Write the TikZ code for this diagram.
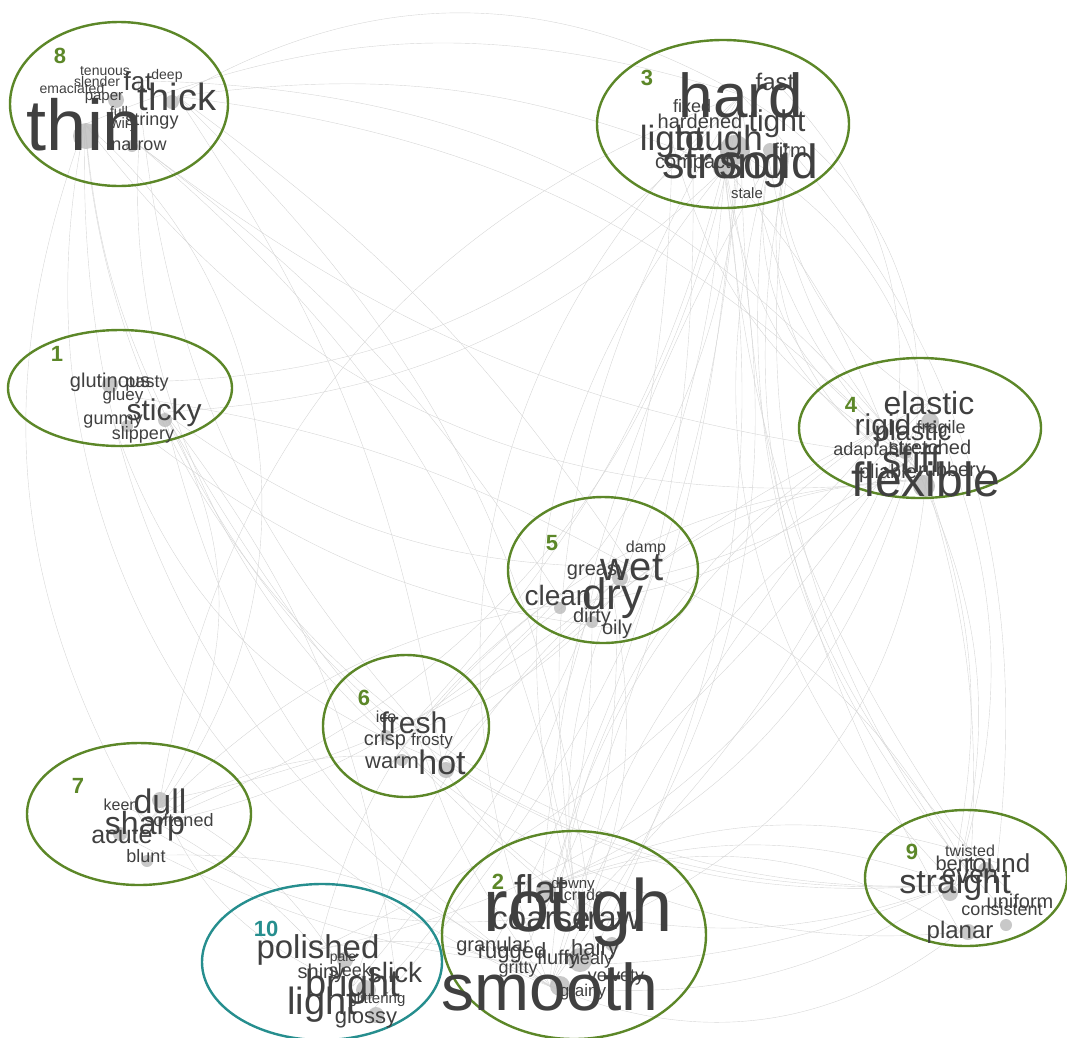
\documentclass[tikz,border=0pt]{standalone}
\usepackage{fontspec}
\setmainfont{Liberation Sans}
\usepackage{tikz}
\usetikzlibrary{positioning,shapes.geometric,backgrounds}
\definecolor{wordgrey}{RGB}{64,64,64}
\definecolor{clgreen}{RGB}{92,135,40}
\definecolor{clteal}{RGB}{38,142,142}
\definecolor{edgegrey}{RGB}{214,214,214}
\definecolor{blobgrey}{RGB}{190,190,190}
\tikzset{
  word/.style={anchor=base, inner sep=0pt, text=wordgrey, font=\fontsize{#1}{#1}\selectfont},
  cluster/.style={draw=clgreen, ellipse, line width=2.4pt, inner sep=0pt},
  tealcluster/.style={cluster, draw=clteal},
  clabel/.style={anchor=base, inner sep=0pt, text=clgreen, font=\bfseries\fontsize{22}{22}\selectfont},
  tealclabel/.style={clabel, text=clteal},
  edge/.style={draw=edgegrey, line width=0.4pt},
  blob/.style={fill=blobgrey, opacity=0.85}
}

\begin{document}
\begin{tikzpicture}[x=1pt, y=-1pt]
  \useasboundingbox (0,0) rectangle (1067,1037);

  % clusters
  \node[cluster, minimum width=218, minimum height=164] (e8) at (119,104) {};
  \node[cluster, minimum width=252, minimum height=168] (e3) at (723,124) {};
  \node[cluster, minimum width=224, minimum height=116] (e1) at (120,388) {};
  \node[cluster, minimum width=242, minimum height=140] (e4) at (920,428) {};
  \node[cluster, minimum width=190, minimum height=146] (e5) at (603,570) {};
  \node[cluster, minimum width=166, minimum height=142] (e6) at (406,726) {};
  \node[cluster, minimum width=224, minimum height=142] (e7) at (139,814) {};
  \node[cluster, minimum width=264, minimum height=208] (e2) at (574,935) {};
  \node[tealcluster, minimum width=240, minimum height=156] (e10) at (322,962) {};
  \node[cluster, minimum width=202, minimum height=136] (e9) at (966,878) {};

  \node[clabel] (n8) at (60,63) {8};
  \node[clabel] (n3) at (647,85) {3};
  \node[clabel] (n1) at (57,361) {1};
  \node[clabel] (n4) at (851,412) {4};
  \node[clabel] (n5) at (552,550) {5};
  \node[clabel] (n6) at (364,705) {6};
  \node[clabel] (n7) at (78,793) {7};
  \node[clabel] (n2) at (498,889) {2};
  \node[tealclabel] (n10) at (266,936) {10};
  \node[clabel] (n9) at (912,859) {9};

  % cluster 8
  \node[word=14] (tenuous) at (105,75) {tenuous};
  \node[word=14] (deep) at (167,79) {deep};
  \node[word=26] (fat) at (138,90) {fat};
  \node[word=14] (slender) at (97,86) {slender};
  \node[word=14] (emaciated) at (72,93) {emaciated};
  \node[word=15] (paper) at (104,100) {paper};
  \node[word=38] (thick) at (177,110) {thick};
  \node[word=14] (full) at (119,116) {full};
  \node[word=18] (stringy) at (152,125) {stringy};
  \node[word=15] (wiry) at (124,128) {wiry};
  \node[word=72] (thin) at (85,150) {thin};
  \node[word=18] (narrow) at (139,150) {narrow};

  % cluster 3
  \node[word=24] (fast) at (775,90) {fast};
  \node[word=18] (fixed) at (692,112) {fixed};
  \node[word=62] (hard) at (741,117) {hard};
  \node[word=20] (hardened) at (700,128) {hardened};
  \node[word=30] (tight) at (777,131) {tight};
  \node[word=35] (light3) at (672,150) {light};
  \node[word=35] (tough) at (719,150) {tough};
  \node[word=20] (firm) at (790,157) {firm};
  \node[word=20] (compact) at (693,168) {compact};
  \node[word=48] (solid) at (769,178) {solid};
  \node[word=45] (strong) at (725,178) {strong};
  \node[word=15] (stale) at (747,198) {stale};

  % cluster 1
  \node[word=20] (glutinous) at (110,387) {glutinous};
  \node[word=18] (pasty) at (147,387) {pasty};
  \node[word=17] (gluey) at (123,400) {gluey};
  \node[word=30] (sticky) at (164,420) {sticky};
  \node[word=18] (gummy) at (113,424) {gummy};
  \node[word=18] (slippery) at (143,439) {slippery};

  % cluster 4
  \node[word=32] (elastic) at (929,414) {elastic};
  \node[word=18] (fragile) at (941,433) {fragile};
  \node[word=30] (rigid) at (883,435) {rigid};
  \node[word=27] (plastic) at (913,440) {plastic};
  \node[word=18] (adaptable) at (873,455) {adaptable};
  \node[word=20] (stretched) at (930,454) {stretched};
  \node[word=38] (stiff) at (912,472) {stiff};
  \node[word=20] (pliable) at (888,478) {pliable};
  \node[word=20] (rubbery) at (952,476) {rubbery};
  \node[word=48] (flexible) at (926,496) {flexible};

  % cluster 5
  \node[word=16] (damp) at (646,552) {damp};
  \node[word=20] (greasy) at (597,575) {greasy};
  \node[word=40] (wet) at (632,580) {wet};
  \node[word=28] (clean) at (558,605) {clean};
  \node[word=44] (dry) at (613,609) {dry};
  \node[word=20] (dirty) at (592,622) {dirty};
  \node[word=20] (oily) at (617,634) {oily};

  % cluster 6
  \node[word=16] (ice) at (386,722) {ice};
  \node[word=30] (fresh) at (414,733) {fresh};
  \node[word=20] (crisp) at (385,745) {crisp};
  \node[word=17] (frosty) at (432,745) {frosty};
  \node[word=22] (warm) at (392,768) {warm};
  \node[word=34] (hot) at (442,774) {hot};

  % cluster 7
  \node[word=16] (keen) at (121,810) {keen};
  \node[word=34] (dull) at (160,813) {dull};
  \node[word=18] (softened) at (179,826) {softened};
  \node[word=32] (sharp) at (145,834) {sharp};
  \node[word=25] (acute) at (122,843) {acute};
  \node[word=18] (blunt) at (146,862) {blunt};

  % cluster 2
  \node[word=15] (downy) at (573,888) {downy};
  \node[word=16] (crude) at (584,900) {crude};
  \node[word=40] (flat) at (541,903) {flat};
  \node[word=33] (coarse) at (541,929) {coarse};
  \node[word=33] (raw) at (614,929) {raw};
  \node[word=74] (rough) at (578,931) {rough};
  \node[word=20] (granular) at (493,951) {granular};
  \node[word=22] (rugged) at (512,958) {rugged};
  \node[word=22] (hairy) at (595,955) {hairy};
  \node[word=20] (fluffy) at (558,964) {fluffy};
  \node[word=18] (mealy) at (589,964) {mealy};
  \node[word=18] (gritty) at (518,973) {gritty};
  \node[word=18] (velvety) at (616,981) {velvety};
  \node[word=17] (grainy) at (583,996) {grainy};
  \node[word=66] (smooth) at (550,1010) {smooth};

  % cluster 10
  \node[word=33] (polished) at (318,958) {polished};
  \node[word=14] (pale) at (343,961) {pale};
  \node[word=20] (shiny) at (321,978) {shiny};
  \node[word=18] (sleek) at (350,976) {sleek};
  \node[word=28] (slick) at (395,982) {slick};
  \node[word=38] (bright) at (353,996) {bright};
  \node[word=15] (glittering) at (377,1003) {glittering};
  \node[word=38] (light10) at (322,1014) {light};
  \node[word=22] (glossy) at (366,1023) {glossy};

  % cluster 9
  \node[word=16] (twisted) at (970,856) {twisted};
  \node[word=20] (bent) at (955,870) {bent};
  \node[word=26] (round) at (997,872) {round};
  \node[word=26] (even) at (970,883) {even};
  \node[word=34] (straight) at (955,893) {straight};
  \node[word=20] (uniform) at (1020,908) {uniform};
  \node[word=18] (consistent) at (1002,915) {consistent};
  \node[word=24] (planar) at (960,938) {planar};

  \begin{scope}[on background layer]
    % links
    \foreach \a/\b/\bb in {thin/hard/20, thick/strong/15, thin/sticky/-10, fat/stiff/25,
        narrow/clean/10, thin/smooth/-30, thick/flexible/20, narrow/rough/20, thin/sharp/-25,
        thick/wet/10, hard/flexible/-20, solid/stiff/-15, strong/rigid/10, hard/rough/-20,
        tough/smooth/25, solid/straight/-30, strong/dry/10, hard/fresh/15, tight/elastic/-30,
        firm/flexible/-40, compact/granular/15, light3/bright/20, hard/sharp/30, strong/sticky/20,
        sticky/smooth/-20, gluey/wet/10, slippery/oily/-15, sticky/rough/-10, glutinous/hard/-25,
        elastic/straight/20, flexible/bent/15, rigid/hot/-10, stiff/smooth/-20, plastic/polished/15,
        pliable/rough/10, wet/dry/30, dry/rough/-15, wet/hot/-20, greasy/slick/15, oily/smooth/10,
        dry/crisp/15, hot/sharp/-20, warm/flexible/25, fresh/smooth/-10, dull/bright/15,
        sharp/rough/-20, blunt/smooth/20, acute/straight/-25, keen/polished/10, dull/hard/30,
        smooth/polished/-20, rough/straight/-15, flat/straight/20, flat/planar/25, smooth/even/-20,
        coarse/hard/-10, raw/fresh/15, hairy/thick/-20, glossy/hard/-20, bright/wet/15,
        slick/sticky/-15, shiny/dull/20, straight/stiff/-20, round/hard/-25, even/flexible/-10,
        uniform/firm/30, twisted/strong/15, consistent/solid/25, smooth/thin/40, thin/straight/-45,
        narrow/planar/-50, hard/smooth/-35, strong/rough/-28, solid/flat/-12, tough/hairy/18,
        rigid/dry/22, flexible/dry/-18, stiff/clean/12, elastic/rough/-8, firm/even/-22,
        hard/planar/-15, thick/hot/12, fat/fresh/-18, sticky/dull/30, gummy/hot/-25, clean/polished/-20,
        dirty/gritty/12, wet/sticky/18, dry/smooth/20, stiff/flat/25, rigid/coarse/-20,
        flexible/raw/30, elastic/smooth/-30, hard/stiff/35, strong/flexible/-25, tough/elastic/22,
        solid/rigid/-35, fast/pliable/28, light3/stiff/-22, thick/hard/30, narrow/stiff/-15,
        sharp/dry/20, dull/wet/-15, straight/hot/18, even/wet/-20, planar/smooth/30, round/flat/-22,
        thin/flexible/-30, sticky/straight/-35, sharp/hard/-40, polished/elastic/-30, thin/sharp/45}
      \draw[edge] (\a.center) to[bend left=\bb] (\b.center);
    % dots
    \foreach \p/\r in {{86,136}/13, {116,100}/8, {172,102}/7, {132,146}/6,
        {735,150}/15, {722,168}/9, {770,150}/7,
        {110,385}/8, {165,420}/7, {127,426}/6,
        {930,422}/9, {924,486}/11, {905,452}/7,
        {620,578}/8, {560,608}/6, {592,622}/6,
        {386,736}/6, {446,770}/8, {402,760}/6,
        {160,800}/8, {120,834}/7, {147,861}/6,
        {546,890}/10, {580,960}/12, {560,986}/10, {612,944}/7,
        {345,960}/8, {366,990}/10, {376,1015}/8,
        {986,870}/8, {950,893}/8, {1006,925}/6, {968,932}/8}
      \fill[blob] (\p) circle (\r);
  \end{scope}
\end{tikzpicture}
\end{document}
